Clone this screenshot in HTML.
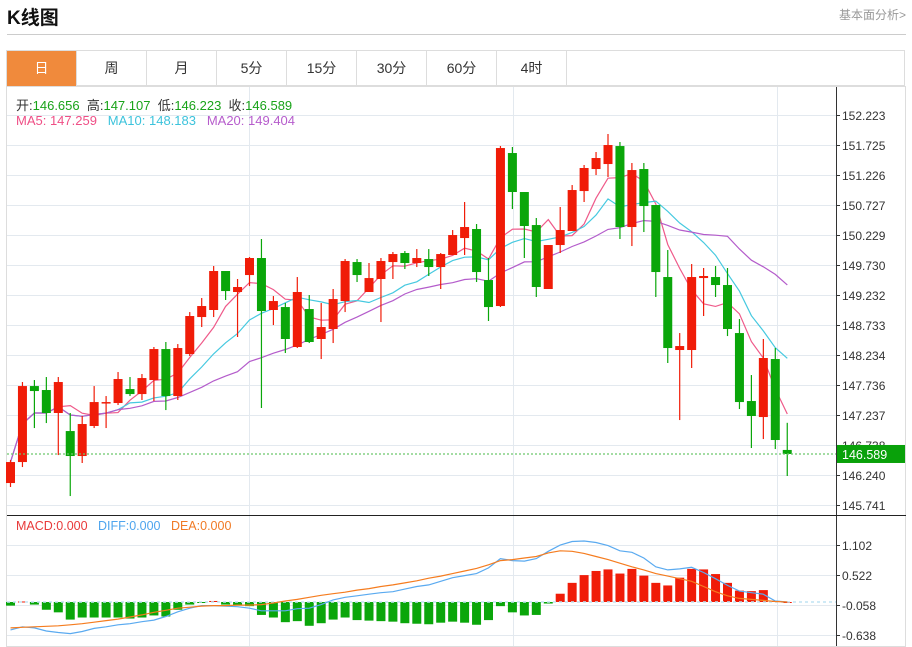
<!DOCTYPE html>
<html><head><meta charset="utf-8">
<style>
body{margin:0;width:912px;height:647px;background:#fff;font-family:"Liberation Sans","Noto Sans CJK SC",sans-serif;overflow:hidden;position:relative}
.abs{position:absolute}
.tab{position:absolute;top:51px;height:35px;width:69px;border-right:1px solid #ddd;text-align:center;line-height:35px;font-size:14px;color:#333}
</style></head><body>
<div class="abs" style="left:7px;top:3px;font-size:19px;font-weight:bold;color:#111">K线图</div>
<div class="abs" style="right:6px;top:6px;font-size:12px;color:#999">基本面分析&gt;</div>
<div class="abs" style="left:7px;top:34px;width:899px;height:1px;background:#ccc"></div>
<div class="abs" style="left:6px;top:50px;width:899px;height:36px;border:1px solid #ddd;box-sizing:border-box"></div>
<div class="tab" style="left:7px;background:#f08a3c;color:#fff">日</div>
<div class="tab" style="left:77px">周</div>
<div class="tab" style="left:147px">月</div>
<div class="tab" style="left:217px">5分</div>
<div class="tab" style="left:287px">15分</div>
<div class="tab" style="left:357px">30分</div>
<div class="tab" style="left:427px">60分</div>
<div class="tab" style="left:497px">4时</div>
<svg class="abs" style="left:0;top:0" width="912" height="647" id="chart" font-family="Liberation Sans, Noto Sans CJK SC, sans-serif"></svg>
<script>
const opens=[146.106,146.455,147.718,147.652,147.270,146.970,146.555,147.054,147.436,147.436,147.668,147.585,147.818,148.333,147.552,148.250,148.865,148.982,149.630,149.281,149.563,149.846,148.982,149.031,148.367,148.998,148.500,148.666,149.131,149.779,149.281,149.497,149.779,149.929,149.763,149.829,149.696,149.896,150.178,150.328,149.480,149.048,151.591,150.943,150.394,149.331,150.062,150.295,150.959,151.325,151.408,151.707,150.361,151.325,150.727,149.530,148.317,148.317,149.513,149.530,149.397,148.599,147.469,147.203,148.167,146.656];
const closes=[146.455,147.718,147.635,147.270,147.785,146.555,147.087,147.452,147.452,147.835,147.585,147.851,148.333,147.552,148.350,148.882,149.048,149.630,149.297,149.364,149.846,148.965,149.131,148.500,149.281,148.450,148.699,149.164,149.796,149.563,149.513,149.796,149.912,149.763,149.846,149.696,149.912,150.228,150.361,149.613,149.031,151.674,150.943,150.378,149.364,150.062,150.311,150.976,151.342,151.508,151.724,150.361,151.308,150.710,149.613,148.350,148.383,149.530,149.547,149.397,148.666,147.452,147.220,148.184,146.821,146.589];
const highs=[146.488,147.785,147.818,147.868,147.868,147.270,147.220,147.718,147.552,147.951,147.868,147.918,148.367,148.450,148.416,148.948,149.181,149.713,149.630,149.497,149.862,150.162,149.214,149.098,149.530,149.231,149.098,149.331,149.829,149.829,149.763,149.846,149.946,149.962,149.995,149.995,149.929,150.311,150.777,150.411,149.846,151.707,151.691,150.943,150.511,150.062,150.694,151.059,151.392,151.608,151.907,151.774,151.425,151.425,150.727,149.979,148.599,149.746,149.680,149.713,149.680,148.832,147.901,148.500,148.350,147.107];
const lows=[146.040,146.372,147.020,147.103,146.571,145.890,146.439,147.020,147.020,147.403,147.552,147.486,147.469,147.319,147.486,148.217,148.699,148.865,149.148,148.533,149.380,147.353,148.732,148.267,148.350,148.433,148.167,148.433,148.948,149.447,149.281,148.782,149.497,149.663,149.696,149.547,149.331,149.896,149.896,149.447,148.799,149.031,150.660,149.846,149.198,149.331,149.929,150.295,150.777,151.225,151.192,150.162,150.045,150.278,149.198,148.101,147.153,148.018,148.882,149.198,148.549,147.336,146.688,146.837,146.671,146.223];
const priceTicks=["152.223","151.725","151.226","150.727","150.229","149.730","149.232","148.733","148.234","147.736","147.237","146.738","146.240","145.741"];
const macdHist=[-0.07,0.01,-0.05,-0.15,-0.20,-0.34,-0.30,-0.30,-0.30,-0.30,-0.32,-0.30,-0.26,-0.28,-0.15,-0.05,-0.01,0.02,-0.05,-0.06,-0.08,-0.25,-0.30,-0.39,-0.37,-0.46,-0.41,-0.34,-0.30,-0.35,-0.36,-0.37,-0.38,-0.41,-0.42,-0.43,-0.40,-0.38,-0.40,-0.44,-0.35,-0.08,-0.20,-0.26,-0.25,-0.03,0.16,0.37,0.52,0.60,0.63,0.55,0.64,0.51,0.37,0.32,0.47,0.64,0.63,0.54,0.37,0.22,0.21,0.23,0.02,0.0];
const diffVals=[-0.54,-0.48,-0.50,-0.56,-0.59,-0.61,-0.57,-0.51,-0.48,-0.44,-0.42,-0.38,-0.35,-0.28,-0.19,-0.12,-0.07,-0.07,-0.08,-0.09,-0.12,-0.17,-0.17,-0.17,-0.13,-0.12,-0.05,0.04,0.09,0.12,0.15,0.18,0.20,0.25,0.30,0.33,0.40,0.47,0.51,0.55,0.66,0.84,0.80,0.79,0.84,0.98,1.10,1.17,1.18,1.15,1.09,0.99,0.96,0.85,0.68,0.62,0.64,0.67,0.57,0.45,0.32,0.21,0.18,0.15,0.02,0.0];
const deaVals=[-0.50,-0.49,-0.48,-0.47,-0.46,-0.44,-0.42,-0.39,-0.36,-0.33,-0.29,-0.25,-0.20,-0.16,-0.12,-0.10,-0.08,-0.07,-0.07,-0.06,-0.06,-0.05,-0.02,0.02,0.05,0.09,0.13,0.16,0.19,0.23,0.26,0.30,0.33,0.37,0.41,0.46,0.50,0.55,0.60,0.65,0.72,0.80,0.82,0.85,0.88,0.95,0.99,0.98,0.94,0.88,0.82,0.75,0.68,0.62,0.55,0.50,0.45,0.40,0.30,0.20,0.12,0.07,0.05,0.03,0.01,0.0];
const macdTicks=["1.102","0.522","-0.058","-0.638"];
const NS="http://www.w3.org/2000/svg";
const svg=document.getElementById('chart');
function mk(tag,attrs,parent){const e=document.createElementNS(NS,tag);for(const k in attrs)e.setAttribute(k,attrs[k]);(parent||svg).appendChild(e);return e;}
const pMax=152.223,pMin=145.741,yTop=115,yBot=505;
function yP(p){return yTop+(pMax-p)/(pMax-pMin)*(yBot-yTop);}
function xI(i){return 10.5+i*11.95;}
const mMax=1.102,mMin=-0.638,myTop=545,myBot=635;
function yM(v){return myTop+(mMax-v)/(mMax-mMin)*(myBot-myTop);}
// frame
let e=mk('rect',{x:6.5,y:86.5,width:899,height:560,fill:'none',stroke:'#ddd'});


// price grid
priceTicks.forEach((t,i)=>{const v=parseFloat(t);const y=Math.round(yP(v))+0.5;
 const g=mk('line',{x1:7,x2:836,y1:y,y2:y,stroke:'#e3e9ef'});
 
 
 mk('line',{x1:836,x2:840,y1:y,y2:y,stroke:'#333'});
 const tx=mk('text',{x:842,y:y+4.5,'font-size':12,fill:'#333'});tx.textContent=t;
 
 
});
macdTicks.forEach(t=>{const y=Math.round(yM(parseFloat(t)))+0.5;
 const g=mk('line',{x1:7,x2:836,y1:y,y2:y,stroke:'#e3e9ef'});
 
 
 mk('line',{x1:836,x2:840,y1:y,y2:y,stroke:'#333'});
 const tx=mk('text',{x:842,y:y+4.5,'font-size':12,fill:'#333'});tx.textContent=t;
 
 
});
[249,513,777].forEach(x=>{const v=mk('line',{x1:x+0.5,x2:x+0.5,y1:87,y2:646,stroke:'#e3e9ef'});
 
 });
mk('line',{x1:836.5,x2:836.5,y1:87,y2:646,stroke:'#333'});
mk('line',{x1:7,x2:906,y1:515.5,y2:515.5,stroke:'#222'});
// MA lines
function ma(n){return closes.map((c,i)=>{const s=Math.max(0,i-n+1);let t=0;for(let k=s;k<=i;k++)t+=closes[k];return t/(i-s+1);});}
[[5,'#ef5a8a','ma5-line'],[10,'#46c9e0','ma10-line'],[20,'#b45ccb','ma20-line']].forEach(([n,c,nm])=>{
 const pts=ma(n).map((v,i)=>xI(i).toFixed(1)+','+yP(v).toFixed(1)).join(' ');
 const l=mk('polyline',{points:pts,fill:'none',stroke:c,'stroke-width':1.2});
 
 
});
// candles
opens.forEach((o,i)=>{const c=closes[i];const up=c>=o;const col=up?'#f01c08':'#0aa60a';const x=xI(i);
 const g=mk('g',{});
 
 
 mk('line',{x1:x,x2:x,y1:yP(highs[i]),y2:yP(lows[i]),stroke:col,'stroke-width':1.2},g);
 const t=yP(Math.max(o,c)),b=yP(Math.min(o,c));
 mk('rect',{x:x-4.5,y:t,width:9,height:Math.max(1.5,b-t),fill:col},g);
});
// current price line
const cp=closes[closes.length-1];const cy=yP(cp);
e=mk('line',{x1:7,x2:836,y1:cy,y2:cy,stroke:'#6cc76c','stroke-dasharray':'2,2','stroke-width':1.2});


e=mk('rect',{x:837,y:cy-9,width:68,height:18,fill:'#09a10a'});


e=mk('text',{x:842,y:cy+5,'font-size':12.5,fill:'#fff'});e.textContent=cp.toFixed(3);


// MACD
const z=yM(0);
macdHist.forEach((v,i)=>{const x=xI(i);const y=yM(v);
 const r=mk('rect',{x:x-4.5,y:Math.min(y,z),width:9,height:Math.max(1,Math.abs(y-z)),fill:v>=0?'#f01c08':'#0aa60a'});
 
 
});
e=mk('line',{x1:7,x2:836,y1:z,y2:z,stroke:'#bfe3f3','stroke-dasharray':'3,3','stroke-width':1.5});


e=mk('polyline',{points:diffVals.map((v,i)=>xI(i).toFixed(1)+','+yM(v).toFixed(1)).join(' '),fill:'none',stroke:'#5aaaf0','stroke-width':1.2});


e=mk('polyline',{points:deaVals.map((v,i)=>xI(i).toFixed(1)+','+yM(v).toFixed(1)).join(' '),fill:'none',stroke:'#f57c1f','stroke-width':1.2});


</script>
<div class="abs" style="left:16px;top:95px;font-size:13px;color:#333;white-space:nowrap">开:<span style="color:#19a319">146.656</span>&nbsp; 高:<span style="color:#19a319">147.107</span>&nbsp; 低:<span style="color:#19a319">146.223</span>&nbsp; 收:<span style="color:#19a319">146.589</span></div>
<div class="abs" style="left:16px;top:113px;font-size:13px;white-space:nowrap"><span style="color:#ef4f86">MA5: 147.259</span>&nbsp;&nbsp; <span style="color:#3cc3dc">MA10: 148.183</span>&nbsp;&nbsp; <span style="color:#b65ccc">MA20: 149.404</span></div>
<div class="abs" style="left:16px;top:519px;font-size:12.5px;white-space:nowrap"><span style="color:#e83a3a">MACD:0.000</span>&nbsp;&nbsp; <span style="color:#4ea5ee">DIFF:0.000</span>&nbsp;&nbsp; <span style="color:#f07a25">DEA:0.000</span></div>
</body></html>
